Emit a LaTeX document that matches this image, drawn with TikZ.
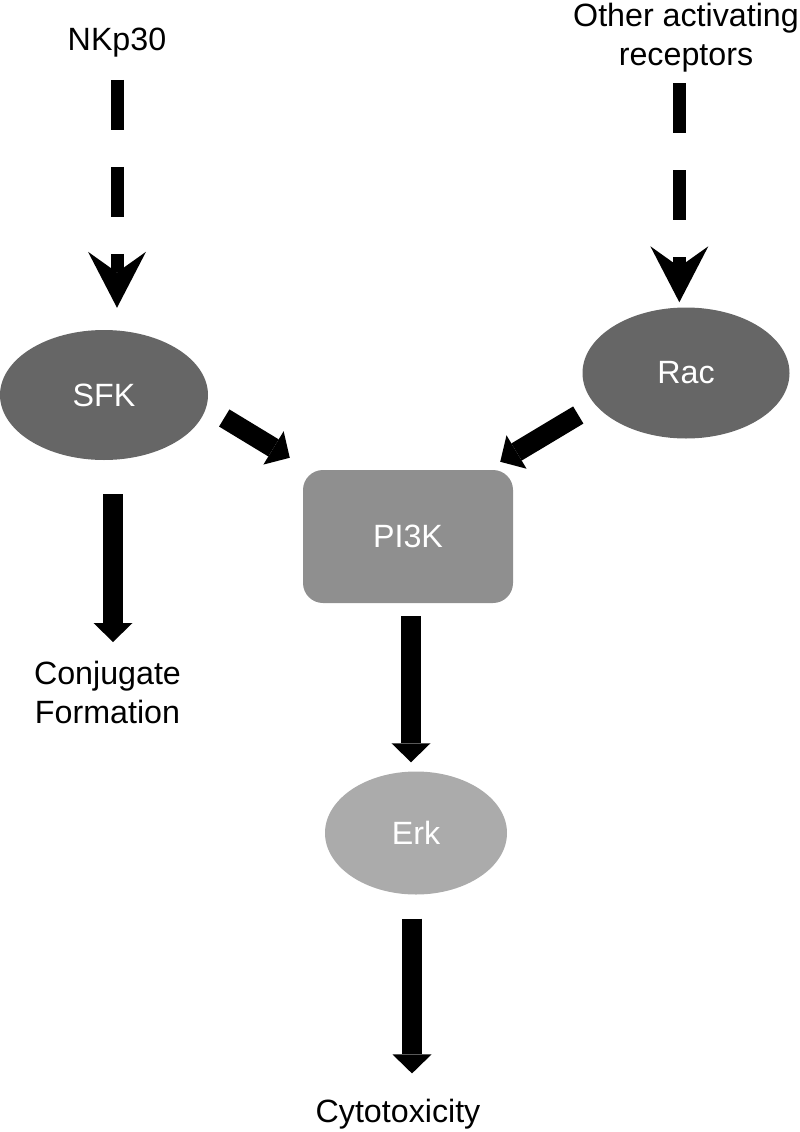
\documentclass[tikz,border=0pt]{standalone}
\usepackage{fontspec}
\setmainfont{Liberation Sans}
\usepackage{tikz}
\usetikzlibrary{positioning,arrows.meta,shapes.geometric}

\definecolor{darkgrey}{HTML}{666666}
\definecolor{midgrey}{HTML}{8F8F8F}
\definecolor{lightgrey}{HTML}{ABABAB}
\newcommand{\lbfont}{\fontsize{27.5}{33}\selectfont}

\begin{document}
\begin{tikzpicture}[
x=0.3mm, y=-0.3mm,
lbl/.style={font=\lbfont, inner sep=0pt},
blob/.style={ellipse, inner sep=0pt, text=white, font=\lbfont},
rbox/.style={rectangle, rounded corners=6mm, inner sep=0pt, text=white, font=\lbfont},
arr/.style={-{Triangle[length=5.7mm,width=11.7mm,line width=0pt]}, line width=6mm},
dasharr/.style={-{Stealth[length=16.8mm,width=17.4mm,inset=6.2mm,line width=0pt]}, line width=3.9mm, dash pattern=on 15mm off 11.1mm}
]
\useasboundingbox (0,0) rectangle (800,1132);

% inputs
\node[lbl, anchor=base] (nkp) at (117,50) {NKp30};
\node[lbl, anchor=north, align=center] (other) at (686,3) {Other activating\\receptors};

% signalling nodes
\node[blob, fill=darkgrey, minimum width=62.4mm, minimum height=39mm] (sfk) at (104,395) {SFK};
\node[blob, fill=darkgrey, minimum width=62.1mm, minimum height=39.3mm] (rac) at (686,373) {Rac};
\node[rbox, fill=midgrey, minimum width=63mm, minimum height=39.9mm] (pi3k) at (408,536.5) {PI3K};
\node[blob, fill=lightgrey, minimum width=54.6mm, minimum height=36.9mm] (erk) at (416,833) {Erk};

% outputs
\node[lbl, anchor=north, align=center] (conj) at (107.5,661) {Conjugate\\Formation};
\node[lbl, anchor=base] (cyto) at (398,1122) {Cytotoxicity};

\draw[dasharr, shorten <=6.9mm, shorten >=6.6mm] (nkp.south) -- (nkp.south |- sfk.north);
\draw[dasharr, shorten <=3.3mm, shorten >=1.5mm] ([xshift=-2mm]other.south) -- ([xshift=-2mm]rac.north);
\draw[arr] ([xshift=4.8mm,yshift=-6.9mm]sfk.east) -- ([xshift=-3.9mm,yshift=3.6mm]pi3k.north west);
\draw[arr] ([xshift=-1.2mm,yshift=-12.6mm]rac.west) -- ([xshift=-3.9mm,yshift=2.4mm]pi3k.north east);
\draw[arr, shorten <=10.2mm, shorten >=5.7mm] ([xshift=2.7mm]sfk.south) -- ([xshift=2.7mm]sfk.south |- conj.north);
\draw[arr, shorten <=3.9mm, shorten >=2.7mm] ([xshift=0.9mm]pi3k.south) -- ([xshift=0.9mm]pi3k.south |- erk.north);
\draw[arr, shorten <=7.2mm, shorten >=7.5mm] ([xshift=-1.2mm]erk.south) -- ([xshift=-1.2mm]erk.south |- cyto.north);
\end{tikzpicture}
\end{document}
